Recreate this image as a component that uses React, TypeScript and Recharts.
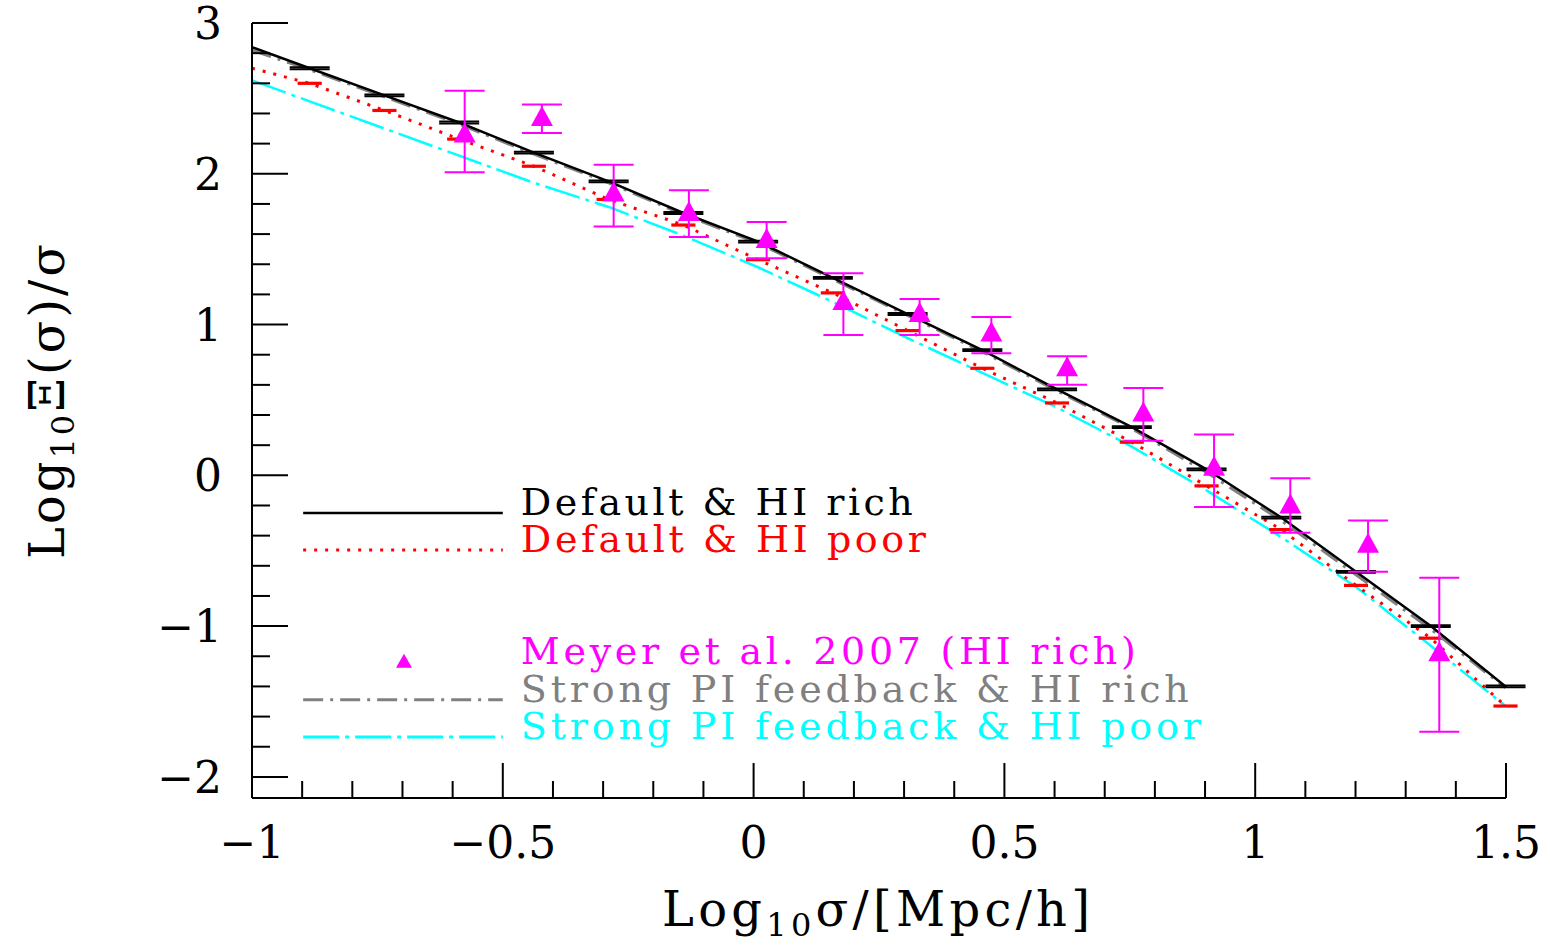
import React from 'react';
import {
  ComposedChart,
  Line,
  Scatter,
  XAxis,
  YAxis,
  ErrorBar,
  ReferenceLine,
  ReferenceDot,
} from 'recharts';

// ---------------- data ----------------
const modelX = [-1, -0.885, -0.736, -0.587, -0.438, -0.289, -0.14, 0.009, 0.158, 0.307, 0.456, 0.605, 0.754, 0.903, 1.052, 1.201, 1.35, 1.499];
const defaultRich = [2.84, 2.7, 2.52, 2.34, 2.14, 1.95, 1.74, 1.55, 1.31, 1.07, 0.83, 0.57, 0.32, 0.04, -0.28, -0.64, -1.0, -1.4];
const defaultRichErr = [null, 0.006, 0.006, 0.006, 0.006, 0.006, 0.006, 0.006, 0.006, 0.006, 0.006, 0.006, 0.006, 0.006, 0.006, 0.006, 0.006, 0.006];
const defaultPoor = [2.7, 2.6, 2.42, 2.23, 2.05, 1.83, 1.66, 1.43, 1.21, 0.96, 0.71, 0.48, 0.22, -0.07, -0.36, -0.73, -1.08, -1.53];
const defaultPoorErr = [null, 0.004, 0.004, 0.004, 0.004, 0.004, 0.004, 0.004, 0.004, 0.004, 0.004, 0.004, 0.004, 0.004, 0.004, 0.004, 0.004, 0.004];
const strongRich = [2.82, 2.69, 2.51, 2.33, 2.13, 1.94, 1.73, 1.54, 1.3, 1.06, 0.82, 0.56, 0.31, 0.02, -0.3, -0.66, -1.02, -1.41];
const strongPoor = [2.62, 2.48, 2.3, 2.12, 1.94, 1.78, 1.59, 1.38, 1.15, 0.91, 0.68, 0.45, 0.19, -0.1, -0.41, -0.74, -1.13, -1.53];

const meyerX = [-0.576, -0.422, -0.279, -0.129, 0.026, 0.179, 0.331, 0.474, 0.625, 0.777, 0.918, 1.07, 1.225, 1.367];
const meyerY = [2.26, 2.37, 1.87, 1.74, 1.56, 1.15, 1.07, 0.94, 0.71, 0.41, 0.05, -0.2, -0.46, -1.18];
const meyerHigh = [2.55, 2.46, 2.06, 1.89, 1.68, 1.34, 1.17, 1.05, 0.79, 0.58, 0.27, -0.02, -0.3, -0.68];
const meyerLow = [2.01, 2.27, 1.65, 1.58, 1.44, 0.93, 0.93, 0.81, 0.6, 0.23, -0.21, -0.38, -0.64, -1.7];

const xTicks = [-1, -0.9, -0.8, -0.7, -0.6, -0.5, -0.4, -0.3, -0.2, -0.1, 0, 0.1, 0.2, 0.3, 0.4, 0.5, 0.6, 0.7, 0.8, 0.9, 1, 1.1, 1.2, 1.3, 1.4, 1.5];
const yTicks = [-2, -1.8, -1.6, -1.4, -1.2, -1, -0.8, -0.6, -0.4, -0.2, 0, 0.2, 0.4, 0.6, 0.8, 1, 1.2, 1.4, 1.6, 1.8, 2, 2.2, 2.4, 2.6, 2.8, 3];

const legendLabels = [
  'Default & HI rich',
  'Default & HI poor',
  'Meyer et al. 2007 (HI rich)',
  'Strong PI feedback & HI rich',
  'Strong PI feedback & HI poor',
];

// ---------------- tables ----------------
const richData = modelX.map((x, i) => ({ x, y: defaultRich[i], e: defaultRichErr[i] }));
const poorData = modelX.map((x, i) => ({ x, y: defaultPoor[i], e: defaultPoorErr[i] }));
const strongRichData = modelX.map((x, i) => ({ x, y: strongRich[i] }));
const strongPoorData = modelX.map((x, i) => ({ x, y: strongPoor[i] }));
const meyerData = meyerX.map((x, i) => ({
  x,
  y: meyerY[i],
  err: [meyerY[i] - meyerLow[i], meyerHigh[i] - meyerY[i]],
}));

// ---------------- styles ----------------
const FONT = 'DejaVu Serif';
const BLACK = '#000000';
const RED = '#ff0000';
const MAGENTA = '#ff00ff';
const GRAY = '#808080';
const CYAN = '#00ffff';
const DASH_RED = '3 8';
const DASH_GRAY = '20 7 3 7';
const DASH_CYAN = '36 6 4 6';

const legendRows = [
  { y: -0.249, color: BLACK, dash: undefined as string | undefined, kind: 'line', len: 392 },
  { y: -0.495, color: RED, dash: DASH_RED, kind: 'line', len: 405 },
  { y: -1.237, color: MAGENTA, dash: undefined, kind: 'tri', len: 615 },
  { y: -1.489, color: GRAY, dash: DASH_GRAY, kind: 'line', len: 668 },
  { y: -1.735, color: CYAN, dash: DASH_CYAN, kind: 'line', len: 680 },
];
const LEG_X0 = -0.898;
const LEG_X1 = -0.5;
const LEG_TRI = -0.697;
const LEG_TEXT = -0.464;

const isMajorX = (v: number) => Math.abs(v * 2 - Math.round(v * 2)) < 1e-6;
const isMajorY = (v: number) => Math.abs(v - Math.round(v)) < 1e-6;
const fmt = (v: number) => String(Math.round(v * 10) / 10).replace('-', '\u2212');

const BottomTick = (p: any) => {
  const v = p.payload.value;
  const major = isMajorX(v);
  return (
    <g>
      <line x1={p.x} x2={p.x} y1={p.y} y2={p.y - (major ? 35 : 17)} stroke={BLACK} strokeWidth={2} />
      {major && (
        <text x={p.x} y={p.y + 60} textAnchor="middle" fontFamily={FONT} fontSize={44} fill={BLACK}>
          {fmt(v)}
        </text>
      )}
    </g>
  );
};

const TopTick = (p: any) => {
  const v = p.payload.value;
  const major = isMajorX(v);
  return <line x1={p.x} x2={p.x} y1={p.y} y2={p.y + (major ? 35 : 17)} stroke={BLACK} strokeWidth={2} />;
};

const LeftTick = (p: any) => {
  const v = p.payload.value;
  const major = isMajorY(v);
  return (
    <g>
      <line x1={p.x} x2={p.x + (major ? 36 : 18)} y1={p.y} y2={p.y} stroke={BLACK} strokeWidth={2} />
      {major && (
        <text x={p.x - 30} y={p.y + 16} textAnchor="end" fontFamily={FONT} fontSize={44} fill={BLACK}>
          {fmt(v)}
        </text>
      )}
    </g>
  );
};

const RightTick = (p: any) => {
  const v = p.payload.value;
  const major = isMajorY(v);
  return <line x1={p.x} x2={p.x - (major ? 36 : 18)} y1={p.y} y2={p.y} stroke={BLACK} strokeWidth={2} />;
};

const XTitle = (props: any) => {
  const vb = props.viewBox;
  return (
    <text
      x={vb.x + vb.width / 2 - 3}
      y={vb.y + 128}
      textAnchor="middle"
      fontFamily={FONT}
      fontSize={48}
      fill={BLACK}
      textLength={428}
      lengthAdjust="spacing"
    >
      Log
      <tspan fontSize={32} dy={10}>10</tspan>
      <tspan dy={-10}>σ/[Mpc/h]</tspan>
    </text>
  );
};

const YTitle = (props: any) => {
  const vb = props.viewBox;
  return (
    <text
      transform={`translate(${vb.x + 64},${vb.y + vb.height / 2 - 9}) rotate(-90)`}
      textAnchor="middle"
      fontFamily={FONT}
      fontSize={48}
      fill={BLACK}
      textLength={315}
      lengthAdjust="spacing"
    >
      Log
      <tspan fontSize={32} dy={10}>10</tspan>
      <tspan dy={-10}>Ξ(σ)/σ</tspan>
    </text>
  );
};

const Triangle = (p: any) => {
  const { cx, cy } = p;
  if (cx == null || cy == null) return null;
  return <polygon points={`${cx},${cy - 12} ${cx - 11},${cy + 8} ${cx + 11},${cy + 8}`} fill={MAGENTA} />;
};

const SmallTriangle = (p: any) => {
  const { cx, cy } = p;
  return <polygon points={`${cx},${cy - 8} ${cx - 8},${cy + 6} ${cx + 8},${cy + 6}`} fill={MAGENTA} />;
};

const axisLine = { stroke: BLACK, strokeWidth: 2 };

export default function App() {
  return (
    <div style={{ position: 'absolute', left: 0, top: 0, background: '#fff' }}>
      <ComposedChart width={1550} height={947} margin={{ top: 23, right: 44, bottom: 0, left: 0 }}>
        <XAxis
          xAxisId="b"
          dataKey="x"
          type="number"
          domain={[-1, 1.5]}
          ticks={xTicks}
          interval={0}
          allowDataOverflow
          orientation="bottom"
          height={149}
          tickSize={0}
          tickMargin={0}
          tickLine={false}
          axisLine={axisLine}
          tick={<BottomTick />}
          label={<XTitle />}
        />
        <XAxis
          xAxisId="t"
          dataKey="x"
          type="number"
          domain={[-1, 1.5]}
          ticks={xTicks}
          interval={0}
          allowDataOverflow
          orientation="top"
          height={0}
          tickSize={0}
          tickMargin={0}
          tickLine={false}
          axisLine={axisLine}
          tick={<TopTick />}
        />
        <YAxis
          yAxisId="l"
          dataKey="y"
          type="number"
          domain={[-2.14, 3]}
          ticks={yTicks}
          interval={0}
          allowDataOverflow
          orientation="left"
          width={252}
          tickSize={0}
          tickMargin={0}
          tickLine={false}
          axisLine={axisLine}
          tick={<LeftTick />}
          label={<YTitle />}
        />
        <YAxis
          yAxisId="r"
          dataKey="y"
          type="number"
          domain={[-2.14, 3]}
          ticks={yTicks}
          interval={0}
          allowDataOverflow
          orientation="right"
          width={0}
          tickSize={0}
          tickMargin={0}
          tickLine={false}
          axisLine={axisLine}
          tick={<RightTick />}
        />

        <Line
          xAxisId="b"
          yAxisId="l"
          data={strongPoorData}
          dataKey="y"
          type="linear"
          stroke={CYAN}
          strokeWidth={2.5}
          strokeDasharray={DASH_CYAN}
          dot={false}
          isAnimationActive={false}
        />
        <Line
          xAxisId="b"
          yAxisId="l"
          data={poorData}
          dataKey="y"
          type="linear"
          stroke={RED}
          strokeWidth={3}
          strokeDasharray={DASH_RED}
          dot={false}
          isAnimationActive={false}
        >
          <ErrorBar dataKey="e" direction="y" width={12} stroke={RED} strokeWidth={2} isAnimationActive={false} />
        </Line>
        <Line
          xAxisId="b"
          yAxisId="l"
          data={strongRichData}
          dataKey="y"
          type="linear"
          stroke={GRAY}
          strokeWidth={3}
          strokeDasharray={DASH_GRAY}
          dot={false}
          isAnimationActive={false}
        />
        <Line
          xAxisId="b"
          yAxisId="l"
          data={richData}
          dataKey="y"
          type="linear"
          stroke={BLACK}
          strokeWidth={2.5}
          dot={false}
          isAnimationActive={false}
        >
          <ErrorBar dataKey="e" direction="y" width={20} stroke={BLACK} strokeWidth={2} isAnimationActive={false} />
        </Line>
        <Scatter
          xAxisId="b"
          yAxisId="l"
          data={meyerData}
          dataKey="y"
          fill={MAGENTA}
          shape={<Triangle />}
          isAnimationActive={false}
        >
          <ErrorBar dataKey="err" direction="y" width={20} stroke={MAGENTA} strokeWidth={2} isAnimationActive={false} />
        </Scatter>

        {legendRows.map((r, i) =>
          r.kind === 'line' ? (
            <ReferenceLine
              key={`ll${i}`}
              xAxisId="b"
              yAxisId="l"
              segment={[
                { x: LEG_X0, y: r.y },
                { x: LEG_X1, y: r.y },
              ]}
              stroke={r.color}
              strokeWidth={r.color === BLACK ? 2.5 : 3}
              strokeDasharray={r.dash}
            />
          ) : (
            <ReferenceDot
              key={`lt${i}`}
              xAxisId="b"
              yAxisId="l"
              x={LEG_TRI}
              y={r.y}
              r={0}
              shape={(p: any) => <SmallTriangle {...p} />}
            />
          )
        )}
        {legendRows.map((r, i) => (
          <ReferenceDot
            key={`lx${i}`}
            xAxisId="b"
            yAxisId="l"
            x={LEG_TEXT}
            y={r.y}
            r={0}
            shape={(p: any) => (
              <text
                x={p.cx}
                y={p.cy + 2}
                fontFamily={FONT}
                fontSize={38}
                fill={r.color}
                textLength={r.len}
                lengthAdjust="spacing"
              >
                {legendLabels[i]}
              </text>
            )}
          />
        ))}
      </ComposedChart>
    </div>
  );
}
